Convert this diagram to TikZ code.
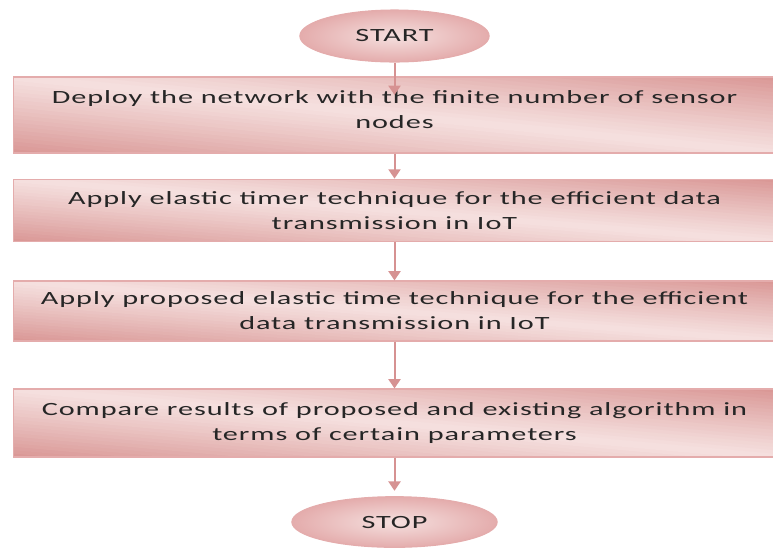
\documentclass[tikz,border=0pt]{standalone}
\usepackage{fontspec}
\setmainfont{Carlito}[FakeStretch=1.62, LetterSpace=5]
\usetikzlibrary{shapes.geometric, arrows.meta, calc}
\definecolor{pinkD}{RGB}{217,150,148}
\definecolor{pinkE}{RGB}{228,172,172}
\definecolor{pinkL}{RGB}{245,224,223}
\definecolor{lineC}{RGB}{214,146,146}
\definecolor{txt}{RGB}{38,38,38}
% diagonal pink strips: light along one diagonal, dark at the other corners
\newcommand\pinkstrips{%
  \foreach \k in {0,...,39}{%
    \pgfmathsetmacro\sLo{\k/20}\pgfmathsetmacro\sHi{(\k+1)/20+0.01}%
    \pgfmathsetmacro\sLoM{\sLo-1}\pgfmathsetmacro\sHiM{\sHi-1}%
    \pgfmathtruncatemacro\shadeval{100*abs((\k+0.5)/20-1)^1.1}%
    \fill[pinkD!\shadeval!pinkL]
      ($(path picture bounding box.south west)!\sLo!(path picture bounding box.south east)$)
      -- ($(path picture bounding box.south west)!\sHi!(path picture bounding box.south east)$)
      -- ($(path picture bounding box.north west)!\sHiM!(path picture bounding box.north east)$)
      -- ($(path picture bounding box.north west)!\sLoM!(path picture bounding box.north east)$) -- cycle;}}
\begin{document}
\begin{tikzpicture}[x=0.75pt, y=-0.75pt,
    stepbox/.style={draw=pinkE, line width=0.8pt, minimum width=571pt, align=center,
        path picture={\pinkstrips}, font=\fontsize{14pt}{18.75pt}\selectfont, text=txt},
    termin/.style={ellipse, draw=pinkE, line width=0.8pt, inner color=pinkL, outer color=pinkE,
        font=\fontsize{14pt}{18.75pt}\selectfont, text=txt},
    flow/.style={draw=lineC, line width=1.5pt, -{Triangle[width=9pt,length=7pt]}}]
    \useasboundingbox (0,0) rectangle (773,547);
    \node[termin, minimum width=142pt, minimum height=39pt] (start) at (394.5,36) {START};
    \node[stepbox, minimum height=57pt] (deploy) at (394.5,115) {Deploy the network  with the finite number of sensor\\nodes\rule[-8pt]{0pt}{8pt}};
    \node[stepbox, minimum height=47pt] (timer) at (394.5,210.5) {Apply elastic timer technique for the efficient data\\transmission in IoT};
    \node[stepbox, minimum height=45pt] (proposed) at (394.5,311) {Apply proposed elastic time technique for the efficient\\data transmission in IoT};
    \node[stepbox, minimum height=51pt] (compare) at (394.5,423) {Compare results of proposed and existing algorithm in\\terms of certain parameters};
    \node[termin, minimum width=154pt, minimum height=38pt] (stop) at (394.5,522) {STOP};
    \coordinate (tip) at (394.5,95);
    \draw[flow] (start) -- (tip);
    \draw[flow] (deploy) -- (timer);
    \draw[flow] (timer) -- (proposed);
    \draw[flow] (proposed) -- (compare);
    \draw[flow] (compare) -- ([yshift=4pt]stop.north);
\end{tikzpicture}
\end{document}
